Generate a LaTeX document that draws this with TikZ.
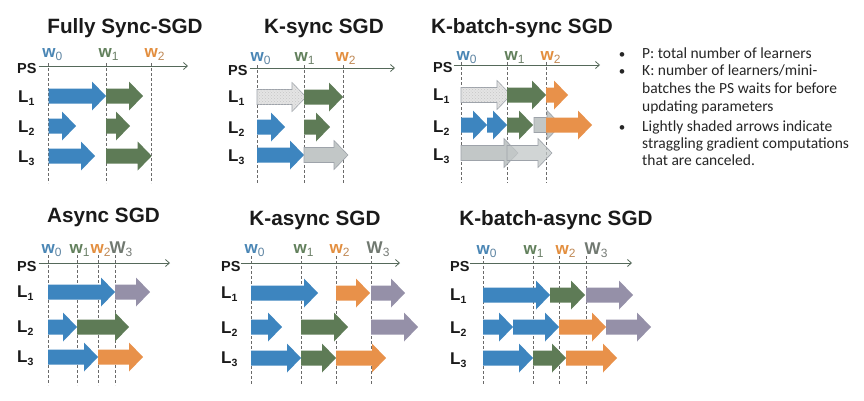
\documentclass[tikz,border=0pt]{standalone}
\usepackage{fontspec}
\setmainfont{Liberation Sans}
\newfontfamily\calfont{Carlito}
\usetikzlibrary{arrows.meta,patterns}
\definecolor{blu}{HTML}{3D85BF}
\definecolor{grn}{HTML}{5E7B56}
\definecolor{org}{HTML}{E8914A}
\definecolor{pur}{HTML}{9590A8}
\definecolor{cgray}{HTML}{C2C7C7}
\definecolor{cdraw}{HTML}{9EA3AA}
\definecolor{sfill}{HTML}{E4E4E4}
\definecolor{axc}{HTML}{55695A}
\definecolor{dsh}{HTML}{6A6A6A}
\definecolor{wb}{HTML}{4A86B5}
\definecolor{wg}{HTML}{62805C}
\definecolor{wo}{HTML}{E38E3E}
\definecolor{wgr}{HTML}{707870}
\definecolor{titc}{HTML}{1A1A1A}
\definecolor{btxt}{HTML}{262626}
\tikzset{
 ttl/.style={anchor=base, inner sep=0pt, text=titc, font=\fontsize{20.7}{24}\selectfont\bfseries},
 pslab/.style={anchor=west, inner sep=0pt, text=titc, font=\fontsize{14.5}{16}\selectfont\bfseries},
 llab/.style={anchor=base west, inner sep=0pt, text=titc, font=\fontsize{17}{18}\selectfont\bfseries},
 wlab/.style={anchor=base west, inner sep=0pt, font=\fontsize{17}{18}\selectfont\bfseries},
 axisline/.style={draw=axc, line width=0.8pt, -{Straight Barb[length=4pt,width=7pt]}},
 vdash/.style={draw=dsh, line width=0.6pt, dash pattern=on 3pt off 2pt},
 bb/.style={fill=blu},
 gg/.style={fill=grn},
 oo/.style={fill=org},
 pp/.style={fill=pur},
 cc/.style={fill=cgray, draw=cdraw, line width=0.6pt},
 ccx/.style={fill=cgray, fill opacity=0.75, draw=cdraw, line width=0.6pt},
 ss/.style={fill=sfill, draw=cdraw, line width=0.6pt, postaction={pattern=crosshatch dots, pattern color=gray!45}},
 btext/.style={anchor=base west, inner sep=0pt, text=btxt, font=\calfont\fontsize{15.5}{17}\selectfont},
 bdot/.style={anchor=base, inner sep=0pt, text=btxt, font=\calfont\fontsize{13}{14}\selectfont},
}
% arrow: x-start, x-tip, y-centre, style
\newcommand\sarr[4]{\fill[#4] (#1,#3-7.5) -- (#2-14,#3-7.5) -- (#2-14,#3-14.5) -- (#2,#3) -- (#2-14,#3+14.5) -- (#2-14,#3+7.5) -- (#1,#3+7.5) -- cycle;}
% w label: name, x, baseline, colour, letter, subscript
\newcommand\wl[6]{\node[wlab, text=#4] (#1) at (#2-6.5,#3) {#5\raisebox{-3.5pt}{\fontsize{12}{13}\selectfont\mdseries\color{#4!65!gray}#6}};}
\newcommand\Ll[4]{\node[llab] (#1) at (#2,#3) {L\raisebox{-3.5pt}{\fontsize{10.5}{11}\selectfont #4}};}
\begin{document}
\begin{tikzpicture}[x=1pt,y=-1pt]
\path[use as bounding box, fill=white] (0,0) rectangle (864,400);

% ================= Panel 1: Fully Sync-SGD =================
\node[ttl] (t1) at (125,33) {Fully Sync-SGD};
\foreach \x in {48.7,106,151.7} \draw[vdash] (\x,63) -- (\x,183);
\sarr{48.7}{106}{96}{bb}
\sarr{106}{143}{96}{gg}
\sarr{48.7}{76}{126}{bb}
\sarr{106}{130}{126}{gg}
\sarr{48.7}{95}{156}{bb}
\sarr{106}{151.7}{156}{gg}
\node[pslab] (ps1) at (17,69) {PS};
\coordinate (ax1) at (188,66);
\draw[axisline] (ps1.east |- ax1) ++(2,0) -- (ax1);
\wl{w10}{48.7}{57}{wb}{w}{0}
\wl{w11}{105}{57}{wg}{w}{1}
\wl{w12}{151}{57}{wo}{w}{2}
\Ll{l11}{18}{102}{1}
\Ll{l12}{18}{132}{2}
\Ll{l13}{18}{162}{3}

% ================= Panel 2: K-sync SGD =================
\node[ttl] (t2) at (324,33) {K-sync SGD};
\foreach \x in {257,304,343} \draw[vdash] (\x,65) -- (\x,183);
\sarr{257}{306}{97}{ss}
\sarr{304}{343}{97}{gg}
\sarr{257}{285}{127}{bb}
\sarr{304}{330}{127}{gg}
\sarr{257}{304}{155}{bb}
\sarr{304}{348}{155}{cc}
\node[pslab] (ps2) at (228,71) {PS};
\coordinate (ax2) at (395,68);
\draw[axisline] (ps2.east |- ax2) ++(2,0) -- (ax2);
\wl{w20}{257}{61}{wb}{w}{0}
\wl{w21}{301}{61}{wg}{w}{1}
\wl{w22}{342}{61}{wo}{w}{2}
\Ll{l21}{228}{102}{1}
\Ll{l22}{228}{133}{2}
\Ll{l23}{228}{161}{3}

% ================= Panel 3: K-batch-sync SGD =================
\node[ttl] (t3) at (522,33) {K-batch-sync SGD};
\foreach \x in {461,507,546} \draw[vdash] (\x,62) -- (\x,183);
\sarr{461}{511}{95}{ss}
\sarr{507}{546}{95}{gg}
\sarr{546}{568}{95}{oo}
\sarr{461}{487}{125}{bb}
\sarr{487}{507}{125}{bb}
\sarr{507}{533}{125}{gg}
\sarr{534}{561}{125}{cc}
\sarr{546}{592}{125}{oo}
\sarr{461}{518}{153}{cc}
\sarr{507}{552}{153}{ccx}
\node[pslab] (ps3) at (433,68) {PS};
\coordinate (ax3) at (600,65);
\draw[axisline] (ps3.east |- ax3) ++(1,0) -- (ax3);
\wl{w30}{463}{60}{wb}{w}{0}
\wl{w31}{511}{60}{wg}{w}{1}
\wl{w32}{547}{60}{wo}{w}{2}
\Ll{l31}{433}{100}{1}
\Ll{l32}{433}{132}{2}
\Ll{l33}{433}{160}{3}

% ================= Bullets =================
\node[bdot] (d1) at (622,58) {•};
\node[btext] (b1) at (642,58) {P: total number of learners};
\node[bdot] (d2) at (622,75.5) {•};
\node[btext] (b2) at (642,75.5) {K: number of learners/mini-};
\node[btext] (b3) at (642,93) {batches the PS waits for before};
\node[btext] (b4) at (642,111) {updating parameters};
\node[bdot] (d3) at (622,131) {•};
\node[btext] (b5) at (642,131) {Lightly shaded arrows indicate};
\node[btext] (b6) at (642,148) {straggling gradient computations};
\node[btext] (b7) at (642,165) {that are canceled.};

% ================= Panel 4: Async SGD =================
\node[ttl] (t4) at (103.5,222) {Async SGD};
\foreach \x in {48,77,98,115} \draw[vdash] (\x,255) -- (\x,385);
\sarr{48}{115}{292}{bb}
\sarr{115}{150}{292}{pp}
\sarr{48}{77}{327}{bb}
\sarr{77}{129}{327}{gg}
\sarr{48}{98}{357}{bb}
\sarr{98}{143}{357}{oo}
\node[pslab] (ps4) at (17,266) {PS};
\coordinate (ax4) at (170,263);
\draw[axisline] (ps4.east |- ax4) ++(2,0) -- (ax4);
\wl{w40}{48}{253}{wb}{w}{0}
\wl{w41}{76}{253}{wg}{w}{1}
\wl{w42}{97}{253}{wo}{w}{2}
\wl{w43}{116}{253}{wgr}{W}{3}
\Ll{l41}{17}{297}{1}
\Ll{l42}{17}{332}{2}
\Ll{l43}{17}{362}{3}

% ================= Panel 5: K-async SGD =================
\node[ttl] (t5) at (315,225) {K-async SGD};
\foreach \x in {251,301,336,371} \draw[vdash] (\x,256) -- (\x,385);
\sarr{251}{318}{293}{bb}
\sarr{336}{370}{293}{oo}
\sarr{371}{405}{293}{pp}
\sarr{251}{282}{327}{bb}
\sarr{301}{348}{327}{gg}
\sarr{371}{418}{327}{pp}
\sarr{251}{301}{358}{bb}
\sarr{301}{336}{358}{gg}
\sarr{336}{386}{358}{oo}
\node[pslab] (ps5) at (221,266) {PS};
\coordinate (ax5) at (400,263);
\draw[axisline] (ps5.east |- ax5) -- (ax5);
\wl{w50}{251}{253}{wb}{w}{0}
\wl{w51}{300}{253}{wg}{w}{1}
\wl{w52}{336}{253}{wo}{w}{2}
\wl{w53}{373}{253}{wgr}{W}{3}
\Ll{l51}{221}{298}{1}
\Ll{l52}{221}{333}{2}
\Ll{l53}{221}{363}{3}

% ================= Panel 6: K-batch-async SGD =================
\node[ttl] (t6) at (556,225) {K-batch-async SGD};
\foreach \x in {483,533,559,586} \draw[vdash] (\x,256) -- (\x,385);
\sarr{483}{550}{295}{bb}
\sarr{550}{585}{295}{gg}
\sarr{586}{633}{295}{pp}
\sarr{483}{513}{327}{bb}
\sarr{513}{559}{327}{bb}
\sarr{559}{606}{327}{oo}
\sarr{606}{651}{327}{pp}
\sarr{483}{533}{358}{bb}
\sarr{533}{566}{358}{gg}
\sarr{566}{617}{358}{oo}
\node[pslab] (ps6) at (450,266) {PS};
\coordinate (ax6) at (632,263);
\draw[axisline] (ps6.east |- ax6) -- (ax6);
\wl{w60}{483}{254}{wb}{w}{0}
\wl{w61}{530}{254}{wg}{w}{1}
\wl{w62}{562}{254}{wo}{w}{2}
\wl{w63}{591}{254}{wgr}{W}{3}
\Ll{l61}{450}{300}{1}
\Ll{l62}{450}{333}{2}
\Ll{l63}{450}{364}{3}
\end{tikzpicture}
\end{document}
